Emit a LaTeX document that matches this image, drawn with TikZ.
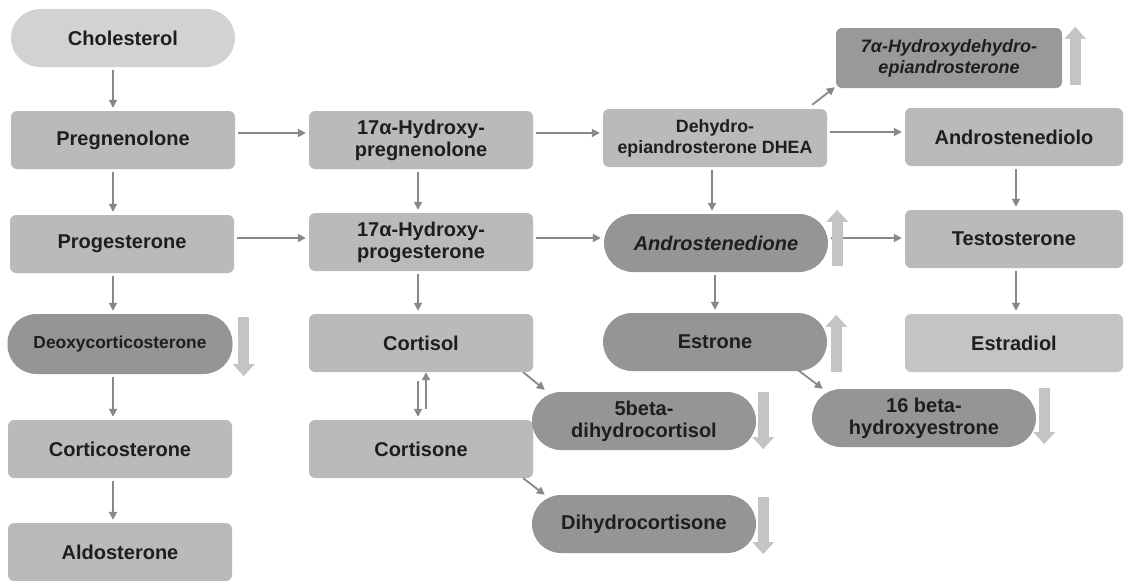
\documentclass[tikz,border=0pt]{standalone}
\usepackage{fontspec}
\setmainfont{Liberation Sans}
\usetikzlibrary{arrows.meta}
\definecolor{cholgray}{HTML}{D2D2D2}
\definecolor{boxgray}{HTML}{BABABA}
\definecolor{pillgray}{HTML}{959595}
\definecolor{linkgray}{HTML}{888888}
\definecolor{trendgray}{HTML}{C4C4C4}
\definecolor{ink}{HTML}{1E1E1E}
\tikzset{
	box/.style={fill=boxgray, rounded corners=6pt, minimum width=224pt, minimum height=58pt, inner sep=0pt, align=center, text=ink, font=\bfseries\fontsize{20}{22}\selectfont},
	pill/.style={box, fill=pillgray, rounded corners=29pt},
	link/.style={draw=linkgray, line width=1.8pt, shorten <=3pt, shorten >=3pt, -{Triangle[length=8pt,width=8pt]}},
	trend/.style={draw=trendgray, line width=11pt, -{Triangle[length=12pt,width=21pt]}}
}

\begin{document}
\begin{tikzpicture}[x=1pt, y=-1pt]
		%%%%% START %%%%%
		\useasboundingbox (0, 0) rectangle (1125, 581);
		
		\node[pill, fill=cholgray] (chol) at (123, 38) {Cholesterol};
		\node[box] (preg) at (123, 140) {Pregnenolone};
		\node[box] (prog) at (122, 244) {Progesterone};
		\node[pill, minimum width=225pt, minimum height=60pt, font=\bfseries\fontsize{17.4}{20}\selectfont] (deoxy) at (120, 344) {Deoxycorticosterone};
		\node[box] (cortico) at (120, 449) {Corticosterone};
		\node[box] (aldo) at (120, 552) {Aldosterone};
		
		\node[box] (hpreg) at (421, 140) {17α-Hydroxy-\\pregnenolone};
		\node[box] (hprog) at (421, 242) {17α-Hydroxy-\\progesterone};
		\node[box] (cortisol) at (421, 343) {Cortisol};
		\node[box] (cortisone) at (421, 449) {Cortisone};
		
		\node[box, font=\bfseries\fontsize{17.8}{21}\selectfont] (dhea) at (715, 138) {Dehydro-\\epiandrosterone DHEA};
		\node[pill, font=\bfseries\itshape\fontsize{20}{22}\selectfont] (andro) at (716, 243) {Androstenedione};
		\node[pill] (estrone) at (715, 342) {Estrone};
		\node[pill] (dhcortisol) at (644, 421) {5beta-\\dihydrocortisol};
		\node[pill] (dhcortisone) at (644, 524) {Dihydrocortisone};
		
		\node[box, fill=pillgray!90!boxgray, minimum width=226pt, minimum height=60pt, font=\bfseries\itshape\fontsize{18}{21}\selectfont] (hdhea) at (949, 58) {7α-Hydroxydehydro-\\epiandrosterone};
		\node[box, minimum width=218pt] (androdiol) at (1014, 137) {Androstenediolo};
		\node[box, minimum width=218pt] (testo) at (1014, 239) {Testosterone};
		\node[box, minimum width=218pt, fill=boxgray!85!white] (estradiol) at (1014, 343) {Estradiol};
		\node[pill] (hestrone) at (924, 418) {16 beta-\\hydroxyestrone};
		
		% pathway
		\draw[link] ([xshift=-10pt]chol.south) -- ([xshift=-10pt]preg.north);
		\draw[link] ([xshift=-10pt]preg.south) -- ([xshift=-9pt]prog.north);
		\draw[link] ([xshift=-9pt]prog.south) -- ([xshift=-7pt]deoxy.north);
		\draw[link] ([xshift=-7pt]deoxy.south) -- ([xshift=-7pt]cortico.north);
		\draw[link] ([xshift=-7pt]cortico.south) -- ([xshift=-7pt]aldo.north);
		
		\draw[link] ([yshift=7pt]preg.east) -- ([yshift=7pt]hpreg.west);
		\draw[link] ([yshift=6pt]prog.east) -- ([yshift=4pt]hprog.west);
		\draw[link] ([xshift=-3pt]hpreg.south) -- ([xshift=-3pt]hprog.north);
		\draw[link] ([xshift=-3pt]hprog.south) -- ([xshift=-3pt]cortisol.north);
		\draw[link, shorten <=9pt] ([xshift=-3pt]cortisol.south) -- ([xshift=-3pt]cortisone.north);
		\draw[link, shorten <=11pt, shorten >=0pt] ([xshift=5pt]cortisone.north) -- ([xshift=5pt]cortisol.south);
		\draw[link, shorten <=0pt, shorten >=0pt] ([xshift=-10pt]cortisol.south east) -- ([xshift=13pt,yshift=2pt]dhcortisol.north west);
		\draw[link, shorten <=0pt, shorten >=0pt] ([xshift=-10pt]cortisone.south east) -- ([xshift=13pt]dhcortisone.north west);
		
		\draw[link] ([yshift=7pt]hpreg.east) -- ([yshift=5pt]dhea.west);
		\draw[link] ([yshift=4pt]hprog.east) -- ([yshift=5pt]andro.west);
		\draw[link] ([xshift=-3pt]dhea.south) -- ([xshift=-4pt]andro.north);
		\draw[link] ([xshift=-1pt]andro.south) -- (estrone.north);
		\draw[link, shorten <=0pt, shorten >=0pt] ([xshift=-15pt,yshift=4pt]dhea.north east) -- ([xshift=-1pt,yshift=1pt]hdhea.south west);
		\draw[link, shorten <=0pt, shorten >=0pt] ([xshift=-29pt,yshift=1pt]estrone.south east) -- ([xshift=11pt]hestrone.north west);
		
		\draw[link] ([yshift=6pt]dhea.east) -- ([yshift=5pt]androdiol.west);
		\draw[link] ([yshift=5pt]andro.east) -- ([yshift=1pt]testo.west);
		\draw[link] ([xshift=2pt]androdiol.south) -- ([xshift=2pt]testo.north);
		\draw[link] ([xshift=2pt]testo.south) -- ([xshift=2pt]estradiol.north);
		
		% up / down marks
		\draw[trend] ([xshift=13pt,yshift=3pt]hdhea.south east) -- ([xshift=13pt,yshift=1pt]hdhea.north east);
		\draw[trend] ([xshift=9pt,yshift=6pt]andro.south east) -- ([xshift=9pt,yshift=4pt]andro.north east);
		\draw[trend] ([xshift=9pt,yshift=-1pt]estrone.south east) -- ([xshift=9pt,yshift=-2pt]estrone.north east);
		\draw[trend] ([xshift=11pt,yshift=-3pt]deoxy.north east) -- ([xshift=11pt,yshift=-2pt]deoxy.south east);
		\draw[trend] ([xshift=7pt]dhcortisol.north east) -- ([xshift=7pt,yshift=1pt]dhcortisol.south east);
		\draw[trend] ([xshift=8pt,yshift=1pt]hestrone.north east) -- ([xshift=8pt,yshift=3pt]hestrone.south east);
		\draw[trend] ([xshift=7pt,yshift=-2pt]dhcortisone.north east) -- ([xshift=7pt,yshift=-1pt]dhcortisone.south east);
		
		%%%%% END %%%%%
\end{tikzpicture}
\end{document}
